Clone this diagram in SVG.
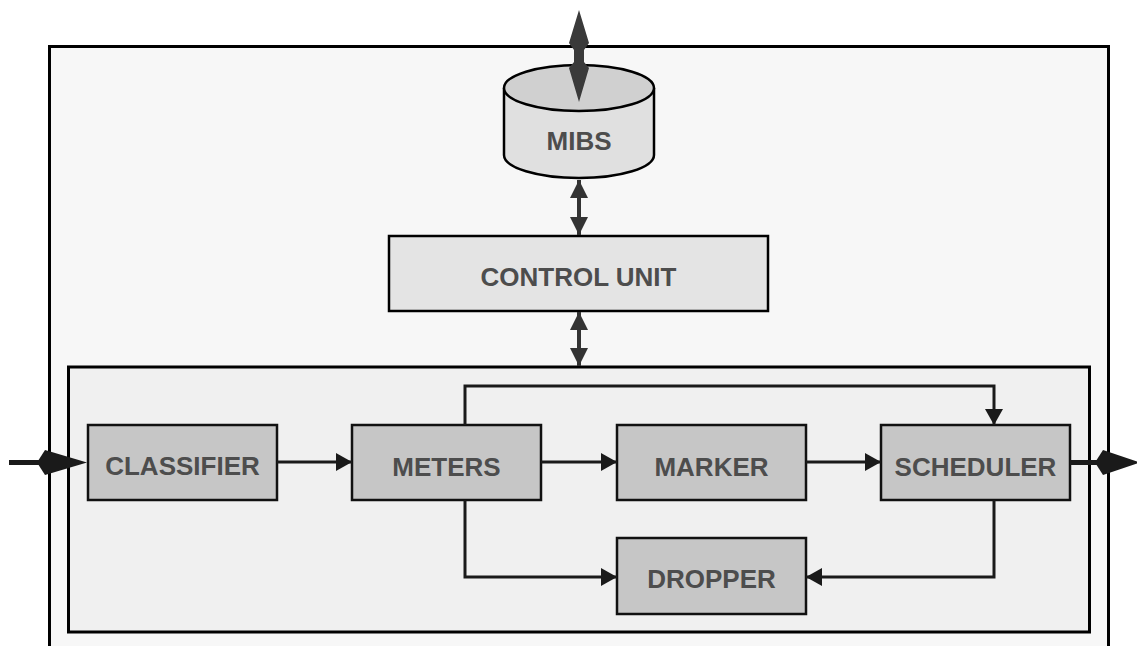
<svg xmlns="http://www.w3.org/2000/svg" width="1137" height="646" viewBox="0 0 1137 646">
  <defs>
    <style>
      .frame { stroke: #000; stroke-width: 3; }
      .box { fill: #c6c6c6; stroke: #111; stroke-width: 2.5; }
      .label { font-family: "Liberation Sans", Arial, sans-serif; font-weight: bold; font-size: 26px; fill: #4d4d4d; text-anchor: middle; }
      .link { fill: none; stroke: #1a1a1a; stroke-width: 3; }
      .ctl { fill: none; stroke: #333; stroke-width: 4; }
    </style>
    <marker id="tri" viewBox="0 0 16 18" refX="16" refY="9" markerWidth="16" markerHeight="18" markerUnits="userSpaceOnUse" orient="auto">
      <path d="M0,0 L16,9 L0,18 Z" fill="#1a1a1a"/>
    </marker>
    <marker id="triDark" viewBox="0 0 18 18" refX="18" refY="9" markerWidth="18" markerHeight="18" markerUnits="userSpaceOnUse" orient="auto-start-reverse">
      <path d="M0,0 L18,9 L0,18 Z" fill="#333"/>
    </marker>
  </defs>

  <rect width="1137" height="646" fill="#fff"/>

  <!-- outer enclosure (open at the bottom edge) -->
  <g id="enclosure">
    <rect class="frame" x="49.5" y="46.5" width="1059" height="620" fill="#f7f7f7"/>
  </g>

  <!-- inner processing block -->
  <g id="datapath">
    <rect class="frame" x="68.5" y="367" width="1021" height="265" fill="#f0f0f0"/>
  </g>

  <!-- MIBS store -->
  <g id="mibs">
    <path d="M504,88 L504,155 A75,23 0 0 0 654,155 L654,88" fill="#e0e0e0" stroke="#000" stroke-width="2.5"/>
    <ellipse cx="579" cy="88" rx="75" ry="23" fill="#d0d0d0" stroke="#000" stroke-width="2.5"/>
    <text class="label" x="579" y="150" font-size="27">MIBS</text>
  </g>

  <!-- control unit -->
  <g id="control-unit">
    <rect x="389" y="236" width="379" height="75" fill="#e4e4e4" stroke="#000" stroke-width="2.5"/>
    <text class="label" x="578.5" y="286">CONTROL UNIT</text>
  </g>

  <g id="classifier">
    <rect class="box" x="88" y="425" width="189" height="75"/>
    <text class="label" x="182.5" y="475">CLASSIFIER</text>
  </g>
  <g id="meters">
    <rect class="box" x="352" y="425" width="189" height="75"/>
    <text class="label" x="446.5" y="476">METERS</text>
  </g>
  <g id="marker">
    <rect class="box" x="617" y="425" width="189" height="75"/>
    <text class="label" x="711.5" y="476">MARKER</text>
  </g>
  <g id="scheduler">
    <rect class="box" x="881" y="425" width="189" height="75"/>
    <text class="label" x="975.5" y="476">SCHEDULER</text>
  </g>
  <g id="dropper">
    <rect class="box" x="617" y="538" width="189" height="76"/>
    <text class="label" x="711.5" y="588">DROPPER</text>
  </g>

  <!-- connectors -->
  <g id="connectors">
    <!-- external management link through the top of the enclosure -->
    <path d="M579,10 L589,43 L584,50 L584,62 L589,68 L579,102 L569,68 L574,62 L574,50 L569,43 Z" fill="#3a3a3a"/>
    <!-- MIBS <-> control unit, control unit <-> datapath -->
    <line class="ctl" x1="579" y1="180" x2="579" y2="235" marker-start="url(#triDark)" marker-end="url(#triDark)"/>
    <line class="ctl" x1="579" y1="312" x2="579" y2="366" marker-start="url(#triDark)" marker-end="url(#triDark)"/>

    <!-- traffic in -->
    <line x1="9" y1="462.5" x2="40" y2="462.5" stroke="#1a1a1a" stroke-width="5"/>
    <path d="M37,462.5 L45,450 L87,462.5 L45,475 Z" fill="#1a1a1a"/>
    <!-- traffic out -->
    <line x1="1070" y1="462.5" x2="1098" y2="462.5" stroke="#1a1a1a" stroke-width="5"/>
    <path d="M1095,462.5 L1103,450 L1140,462.5 L1103,475 Z" fill="#1a1a1a"/>

    <!-- datapath flows -->
    <line class="link" x1="277" y1="462" x2="352" y2="462" marker-end="url(#tri)"/>
    <line class="link" x1="541" y1="462" x2="617" y2="462" marker-end="url(#tri)"/>
    <line class="link" x1="806" y1="462" x2="881" y2="462" marker-end="url(#tri)"/>
    <polyline class="link" points="465,425 465,386 994,386 994,425" marker-end="url(#tri)"/>
    <polyline class="link" points="465,500 465,577 617,577" marker-end="url(#tri)"/>
    <polyline class="link" points="994,500 994,577 806,577" marker-end="url(#tri)"/>
  </g>
</svg>
